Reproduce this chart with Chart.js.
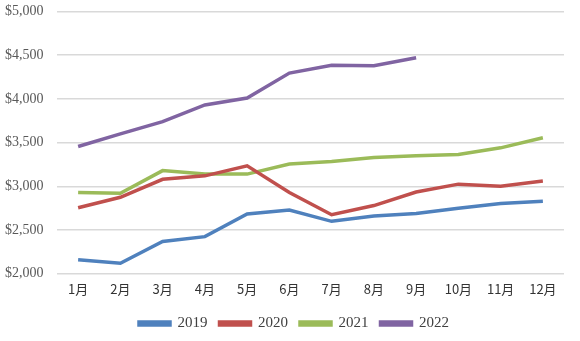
<!DOCTYPE html>
<html>
<head>
<meta charset="utf-8">
<script src="https://cdn.jsdelivr.net/npm/chart.js@4"></script>
<style>
  html, body { margin: 0; padding: 0; background: #fff; }
  #wrap { width: 580px; height: 341px; }
</style>
</head>
<body>
<div id="wrap"><canvas id="trendChart"></canvas></div>
<script>
// Monthly values per year
var months = ['1月', '2月', '3月', '4月', '5月', '6月', '7月', '8月', '9月', '10月', '11月', '12月'];
var y2019 = [2160, 2120, 2370, 2425, 2685, 2730, 2600, 2660, 2690, 2750, 2805, 2830];
var y2020 = [2755, 2875, 3080, 3120, 3235, 2930, 2675, 2780, 2935, 3025, 3000, 3060];
var y2021 = [2930, 2920, 3180, 3140, 3140, 3255, 3285, 3330, 3350, 3365, 3440, 3555];
var y2022 = [3455, 3600, 3740, 3930, 4010, 4295, 4385, 4380, 4470];

var colors = ['#4f81bd', '#c0504d', '#9bbb59', '#8064a2'];

function series(label, data, color) {
    return {
        label: label,
        data: data,
        borderColor: color,
        backgroundColor: color,
        borderWidth: 3.5,
        pointRadius: 0,
        tension: 0,
        fill: false
    };
}

// nudge the legend row a little to the right so it sits under the plot
var legendShift = {
    id: 'legendShift',
    afterLayout: function (chart) {
        chart.legend.left += 11;
        chart.legend.right += 11;
    }
};

var ctx = document.getElementById('trendChart').getContext('2d');
var chart = new Chart(ctx, {
    type: 'line',
    data: {
        labels: months,
        datasets: [
            series('2019', y2019, colors[0]),
            series('2020', y2020, colors[1]),
            series('2021', y2021, colors[2]),
            series('2022', y2022, colors[3])
        ]
    },
    plugins: [legendShift],
    options: {
        responsive: true,
        maintainAspectRatio: false,
        animation: false,
        layout: { padding: { top: 0, right: 16, left: 2, bottom: 0 } },
        plugins: {
            tooltip: { enabled: false },
            legend: {
                position: 'bottom',
                labels: {
                    boxWidth: 31,
                    boxHeight: 3,
                    padding: 12,
                    color: '#404040',
                    font: { family: 'Liberation Serif', size: 15 }
                }
            }
        },
        scales: {
            x: {
                offset: true,
                grid: { display: false, drawTicks: false },
                border: { display: false },
                ticks: {
                    color: '#333',
                    padding: 7.3,
                    font: { family: 'Noto Sans CJK SC', size: 13 }
                }
            },
            y: {
                min: 2000,
                max: 5000,
                grid: { color: '#d9d9d9', lineWidth: 1.5, drawTicks: false },
                border: { display: false },
                ticks: {
                    stepSize: 500,
                    padding: 3,
                    color: '#595959',
                    font: { family: 'Liberation Serif', size: 14 },
                    // trailing spaces keep the labels clear of the grid lines
                    callback: function (v) { return '$' + v.toLocaleString('en-US') + '\u2002 '; }
                }
            }
        }
    }
});
</script>
</body>
</html>
